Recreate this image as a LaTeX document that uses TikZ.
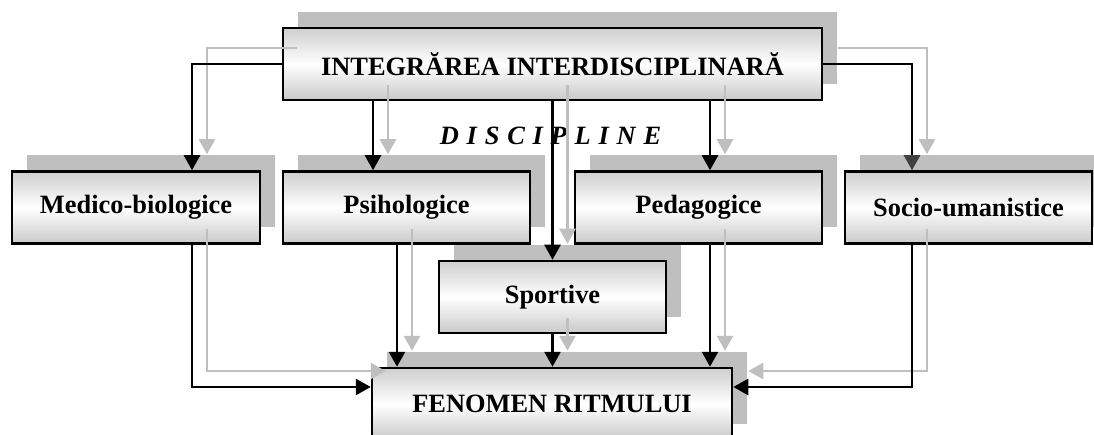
\documentclass[tikz,border=0pt]{standalone}
\usepackage{fontspec}
\setmainfont{Liberation Serif}
\usetikzlibrary{positioning}
\usetikzlibrary{calc}
\usetikzlibrary{arrows.meta}
\usetikzlibrary{shadows}

\newcommand{\widespace}{\spaceskip=7.8pt\relax}
\tikzset{
  disc/.style={draw, line width=2.5pt, minimum height=72pt, inner sep=0pt,
    top color=gray!38, bottom color=gray!42, middle color=white,
    font=\fontsize{26.4}{30}\selectfont\bfseries,
    drop shadow={shadow xshift=15pt, shadow yshift=16pt, fill=gray!50, draw=none, opacity=1}},
  link/.style={line width=2.6pt, -{Triangle[length=15pt,width=16pt]}},
  shadelink/.style={link, draw=gray!50, -{Triangle[length=15pt,width=16pt,color=gray!50]},
    transform canvas={shift={(15pt,16pt)}}},
}
\newcommand{\twolinks}[1]{\draw[shadelink] #1; \draw[link] #1;}

\begin{document}
\begin{tikzpicture}[x=1pt,y=1pt]
    \useasboundingbox (0,0) rectangle (1094,434);
    \clip (0,0) rectangle (1094,434);
    % boxes
    \node[disc, minimum width=539pt] (integ) at (552.5,370) {INTEGRĂREA INTERDISCIPLINARĂ};
    \node[disc, minimum width=248pt] (med) at (136,226.5) {Medico-biologice};
    \node[disc, minimum width=247pt] (psi) at (406.5,226.5) {Psihologice};
    \node[disc, minimum width=247pt] (ped) at (698.5,226.5) {Pedagogice};
    \node[disc, minimum width=247pt] (soc) at (968.5,226.5) {Socio-umanistice};
    \node[disc, minimum width=227pt] (sport) at (552.5,137) {Sportive};
    \node[disc, minimum width=360pt] (fen) at (552,30) {FENOMEN RITMULUI};
    \node[anchor=base, inner sep=0pt,
      font=\fontsize{26.4}{30}\selectfont\bfseries\itshape\widespace] (disclabel)
      at (550.5,289) {D I S C I P L I N E};
    % columns of the connectors
    \coordinate (cmed) at (192,0);
    \coordinate (cpsiin) at (373,0);
    \coordinate (cpsiout) at (397,0);
    \coordinate (cped) at (710,0);
    \coordinate (csoc) at (912,0);
    \coordinate (lowy) at (0,47);
    % connectors, each with its grey shadow
    \twolinks{(integ.west) -| (med.north -| cmed)}
    \twolinks{(integ.south -| cpsiin) -- (psi.north -| cpsiin)}
    \twolinks{(integ.south) -- (sport.north)}
    \twolinks{(integ.south -| cped) -- (ped.north -| cped)}
    \draw[shadelink] (integ.east) -| (soc.north -| csoc);
    \draw[link, -{Triangle[length=15pt,width=16pt,color=black!75]}] (integ.east) -| (soc.north -| csoc);
    \twolinks{(med.south -| cmed) |- (fen.west |- lowy)}
    \twolinks{(psi.south -| cpsiout) -- (fen.north -| cpsiout)}
    \twolinks{(sport.south) -- (sport.south |- fen.north)}
    \twolinks{(ped.south -| cped) -- (fen.north -| cped)}
    \twolinks{(soc.south -| csoc) |- (fen.east |- lowy)}
\end{tikzpicture}
\end{document}
